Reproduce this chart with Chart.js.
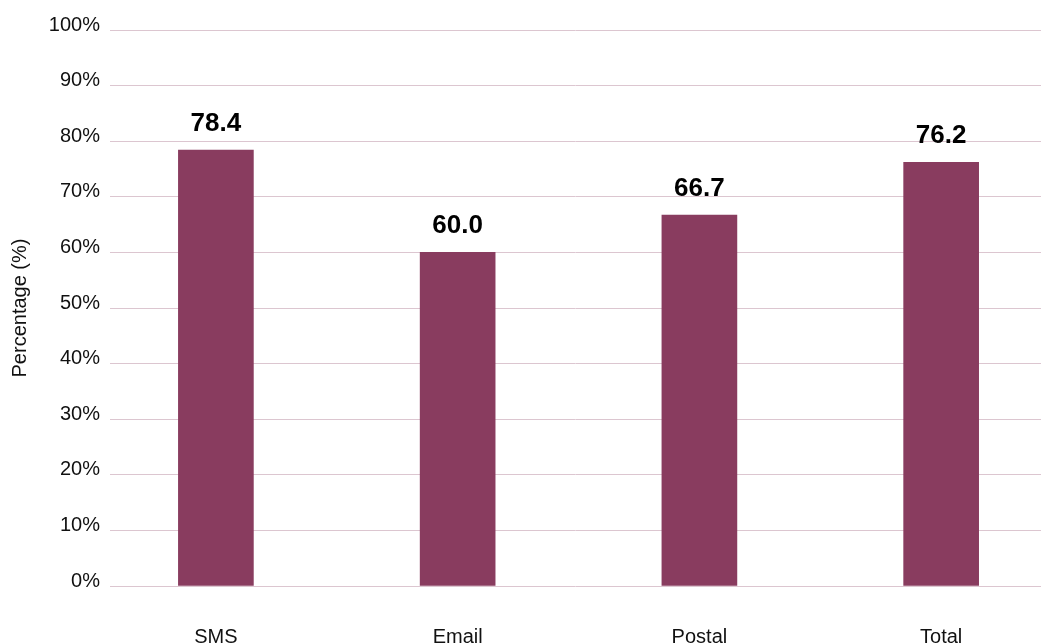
<!DOCTYPE html>
<html>
<head>
<meta charset="utf-8">
<style>
  html, body { margin: 0; padding: 0; background: #fff; overflow: hidden; }
  #wrap { width: 1041px; height: 643px; }
</style>
</head>
<body>
<div id="wrap"><canvas id="myChart" width="1041" height="643"></canvas></div>

<script src="https://cdn.jsdelivr.net/npm/chart.js@4.4.2/dist/chart.umd.min.js"></script>
<script>
  const categories = ['SMS', 'Email', 'Postal', 'Total'];
  const percentages = [78.4, 60.0, 66.7, 76.2];
  const yTicks = [0, 10, 20, 30, 40, 50, 60, 70, 80, 90, 100];

  const font = "'Liberation Sans', Arial, Helvetica, sans-serif";
  const barColor = '#893c5f';
  const gridColor = '#dcc6d0';

  // value labels above each bar
  const valueLabels = {
    id: 'valueLabels',
    afterDatasetsDraw(chart) {
      const c = chart.ctx;
      const meta = chart.getDatasetMeta(0);
      c.save();
      c.font = 'bold 26px ' + font;
      c.fillStyle = '#000';
      c.textAlign = 'center';
      c.textBaseline = 'alphabetic';
      meta.data.forEach(function(bar, i) {
        c.fillText(percentages[i].toFixed(1), bar.x, bar.y - 19);
      });
      c.restore();
    }
  };

  const ctx = document.getElementById('myChart');
  const myChart = new Chart(ctx, {
    type: 'bar',
    data: {
      datasets: [{
        data: percentages.map(function(v, i) { return { x: i, y: v }; }),
        backgroundColor: barColor,
        borderWidth: 0,
        barThickness: 75
      }]
    },
    options: {
      responsive: false,
      animation: false,
      layout: { padding: { top: 30, right: 0, left: 0, bottom: 0 } },
      plugins: {
        legend: { display: false },
        tooltip: { enabled: false }
      },
      scales: {
        x: {
          type: 'linear',
          min: -0.438,
          max: 3.413,
          offset: false,
          grid: { display: false },
          border: { display: false },
          afterBuildTicks(scale) {
            scale.ticks = categories.map(function(c, i) { return { value: i }; });
          },
          afterFit(scale) { scale.height = 57; },
          ticks: {
            padding: 31,
            color: '#111',
            font: { family: font, size: 20 },
            callback: function(v) { return categories[v]; }
          }
        },
        y: {
          min: 0,
          max: 100,
          afterBuildTicks(scale) {
            scale.ticks = yTicks.map(function(v) { return { value: v }; });
          },
          afterFit(scale) { scale.width = 110; },
          grid: { color: gridColor, lineWidth: 1, drawTicks: false },
          border: { display: false },
          ticks: {
            padding: 10,
            labelOffset: -5,
            color: '#111',
            font: { family: font, size: 20 },
            callback: function(v) { return v + '%'; }
          },
          title: {
            display: true,
            text: 'Percentage (%)',
            color: '#111',
            padding: { top: 8, bottom: 0 },
            font: { family: font, size: 20 }
          }
        }
      }
    },
    plugins: [valueLabels]
  });
</script>
</body>
</html>
